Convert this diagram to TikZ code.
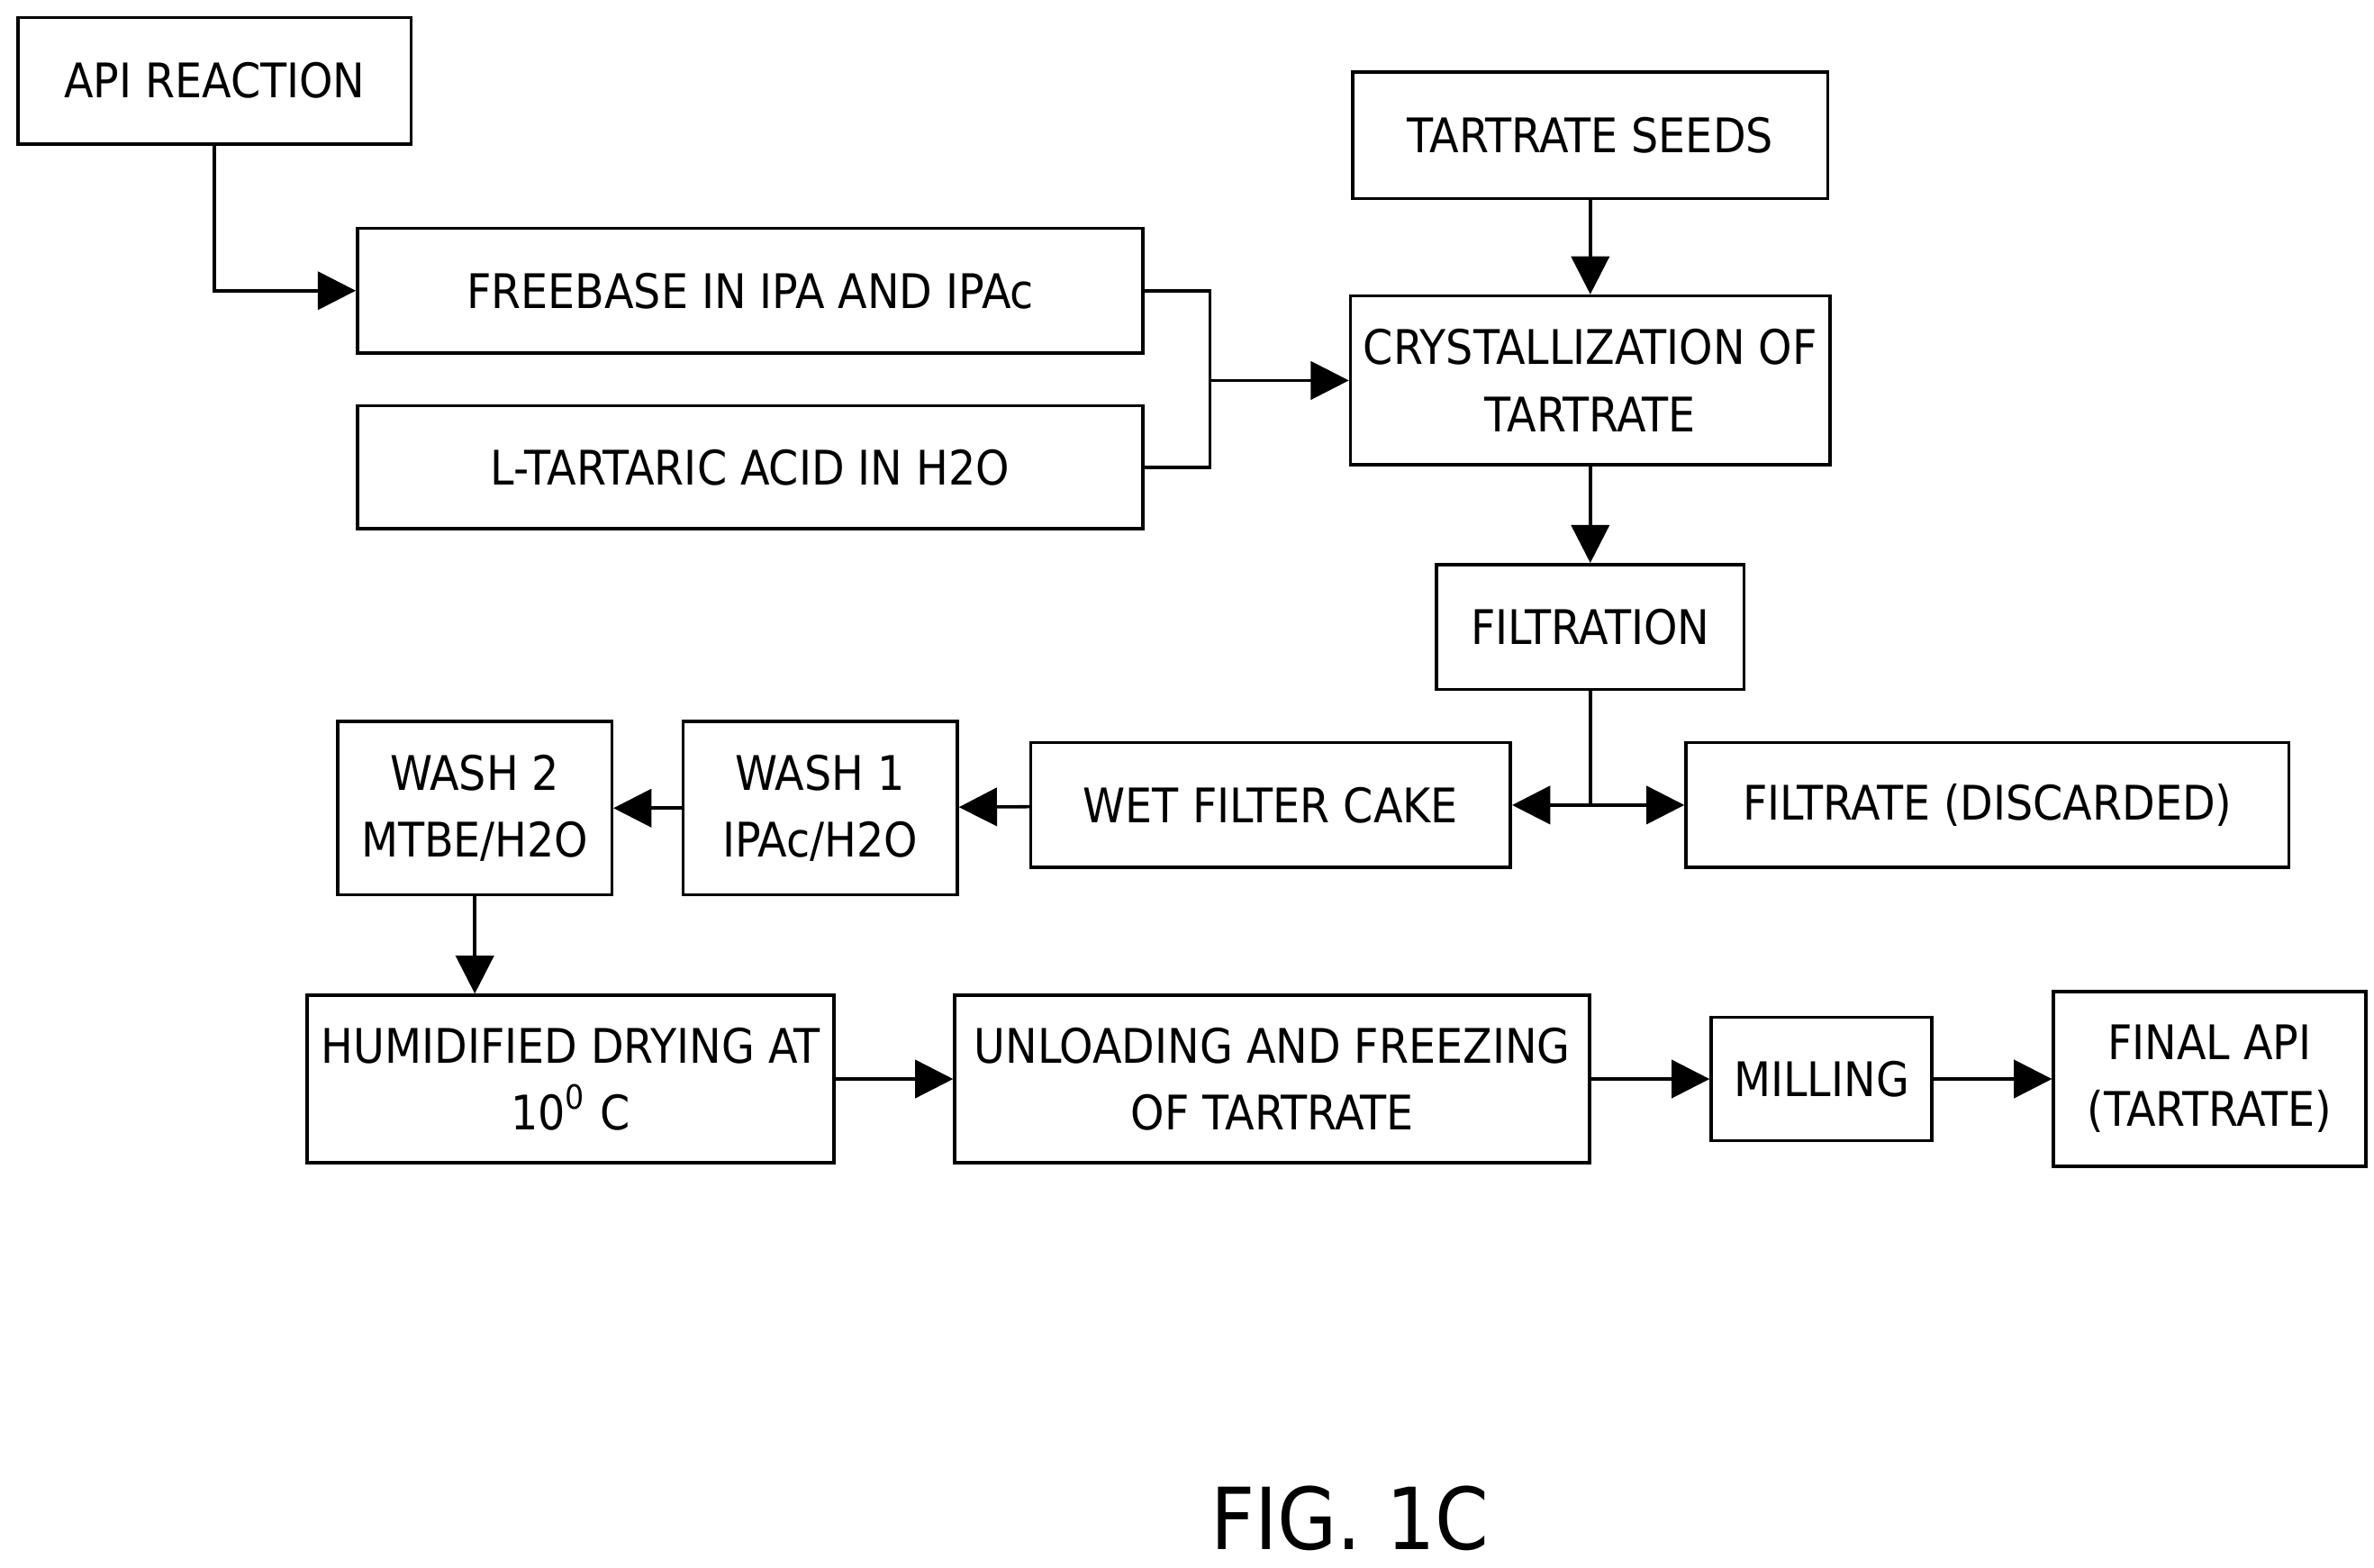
\documentclass[tikz,border=0pt]{standalone}
\usepackage{fontspec}
\setmainfont{DejaVu Sans Condensed}
\usetikzlibrary{arrows.meta}

\tikzset{
  box/.style={draw, line width=0.6pt, inner sep=0pt, align=center, font=\fontsize{8.9}{12.5}\selectfont},
  flow/.style={line width=0.6pt, -{Triangle[length=0.25cm, width=0.25cm]}},
  line/.style={line width=0.6pt}
}

\begin{document}
\begin{tikzpicture}[x=0.01cm, y=-0.01cm]
  \useasboundingbox (0,0) rectangle (1560,1030);

  % top row
  \node[box, minimum width=2.58cm, minimum height=0.83cm] (api) at (141,53) {API REACTION};
  \node[box, minimum width=5.16cm, minimum height=0.82cm] (freebase) at (493,191) {FREEBASE IN IPA AND IPAc};
  \node[box, minimum width=5.16cm, minimum height=0.81cm] (acid) at (493,307) {L-TARTARIC ACID IN H2O};
  \node[box, minimum width=3.12cm, minimum height=0.83cm] (seeds) at (1045,89) {TARTRATE SEEDS};
  \node[box, minimum width=3.15cm, minimum height=1.11cm] (cryst) at (1045,250) {CRYSTALLIZATION OF\\TARTRATE};
  \node[box, minimum width=2.02cm, minimum height=0.82cm] (filt) at (1045,412) {FILTRATION};

  % middle row
  \node[box, minimum width=3.15cm, minimum height=0.82cm] (cake) at (835,529) {WET FILTER CAKE};
  \node[box, minimum width=3.96cm, minimum height=0.82cm] (filtrate) at (1306,529) {FILTRATE (DISCARDED)};
  \node[box, minimum width=1.80cm, minimum height=1.14cm] (wash1) at (539,531) {WASH 1\\IPAc/H2O};
  \node[box, minimum width=1.80cm, minimum height=1.14cm] (wash2) at (312,531) {WASH 2\\MTBE/H2O};

  % bottom row
  \node[box, minimum width=3.46cm, minimum height=1.10cm] (dry) at (375,709) {HUMIDIFIED DRYING AT\\10$^{\mathrm{0}}$ C};
  \node[box, minimum width=4.17cm, minimum height=1.10cm] (unload) at (836,709) {UNLOADING AND FREEZING\\OF TARTRATE};
  \node[box, minimum width=1.45cm, minimum height=0.81cm] (mill) at (1197,709) {MILLING};
  \node[box, minimum width=2.05cm, minimum height=1.15cm] (final) at (1452,709) {FINAL API\\(TARTRATE)};

  \node[font=\fontsize{16}{20}\selectfont] (fig) at (887,998) {FIG. 1C};

  % connectors
  \draw[flow] (api.south) |- (freebase.west);
  \coordinate (join) at (795,250);
  \draw[line] (freebase.east) -| (join);
  \draw[line] (acid.east) -| (join);
  \draw[flow] (join) -- (cryst.west);
  \draw[flow] (seeds) -- (cryst);
  \draw[flow] (cryst) -- (filt);
  \coordinate (split) at (1045,529);
  \draw[line] (filt.south) -- (split);
  \draw[flow] (split) -- (cake.east);
  \draw[flow] (split) -- (filtrate.west);
  \draw[flow] (cake) -- (wash1);
  \draw[flow] (wash1) -- (wash2);
  \draw[flow] (wash2) -- (wash2.south |- dry.north);
  \draw[flow] (dry) -- (unload);
  \draw[flow] (unload) -- (mill);
  \draw[flow] (mill) -- (final);
\end{tikzpicture}
\end{document}
